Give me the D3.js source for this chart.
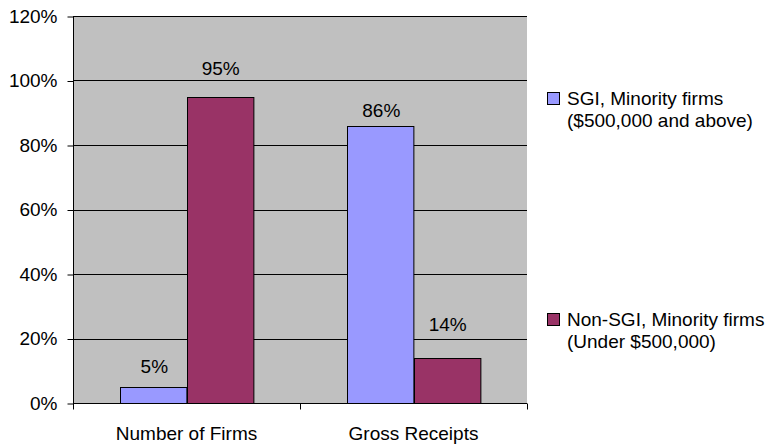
<!DOCTYPE html>
<html>
<head>
<meta charset="utf-8">
<script src="https://cdn.jsdelivr.net/npm/d3@7"></script>
<style>
body { margin:0; background:#fff; }
text { font-family: "Liberation Sans", Arial, sans-serif; fill:#000; }
</style>
</head>
<body>
<svg id="chart" width="765" height="445"></svg>
<script>
// data
var categories = ["Number of Firms", "Gross Receipts"];
var seriesNames = ["SGI", "NonSGI"];
var sgiValues = [5, 86];
var nonSgiValues = [95, 14];
var yTicks = [0, 20, 40, 60, 80, 100, 120];
var legendLines = [
	["SGI, Minority firms", "($500,000 and above)"],
	["Non-SGI, Minority firms", "(Under $500,000)"]
];
var colors = ["#9999FF", "#993366"];
// label gap above each bar (as Excel placed them)
var labelGap = [[14, 22], [9, 27]];

var svg = d3.select("#chart");
var plot = {left: 73, top: 16, right: 527, bottom: 403};
var fs = 19;

var x0 = d3.scaleBand().domain(categories).range([plot.left, plot.right]).paddingInner(0).paddingOuter(0);
var x1 = d3.scaleBand().domain(seriesNames).range([0, x0.bandwidth()]).paddingInner(0).paddingOuter(0.71);
var y = d3.scaleLinear().domain([0, 120]).range([plot.bottom, plot.top]);

// plot area
svg.append("rect").attr("x", plot.left).attr("y", plot.top)
	.attr("width", plot.right - plot.left).attr("height", plot.bottom - plot.top)
	.attr("fill", "#C0C0C0");

// gridlines
svg.append("g").selectAll("line").data(yTicks.filter(function(d){ return d > 0; }))
	.enter().append("line")
	.attr("x1", plot.left).attr("x2", plot.right)
	.attr("y1", function(d){ return Math.round(y(d)) + 0.5; })
	.attr("y2", function(d){ return Math.round(y(d)) + 0.5; })
	.attr("stroke", "#000").attr("stroke-width", 1);

// bars
var rows = categories.map(function(c, i){
	return {cat: c, vals: [
		{s: "SGI", v: sgiValues[i], gap: labelGap[i][0]},
		{s: "NonSGI", v: nonSgiValues[i], gap: labelGap[i][1]}
	]};
});
var groups = svg.append("g").selectAll("g").data(rows).enter().append("g")
	.attr("transform", function(d){ return "translate(" + x0(d.cat) + ",0)"; });
groups.selectAll("rect").data(function(d){ return d.vals; }).enter().append("rect")
	.attr("x", function(d){ return Math.round(x1(d.s)) + 0.5; })
	.attr("y", function(d){ return Math.round(y(d.v)) + 0.5; })
	.attr("width", x1.bandwidth())
	.attr("height", function(d){ return Math.round(plot.bottom - y(d.v)); })
	.attr("fill", function(d, i){ return colors[i]; })
	.attr("stroke", "#000").attr("stroke-width", 1);
groups.selectAll("text").data(function(d){ return d.vals; }).enter().append("text")
	.attr("x", function(d){ return x1(d.s) + x1.bandwidth() / 2 + 1; })
	.attr("y", function(d){ return y(d.v) - d.gap; })
	.attr("text-anchor", "middle")
	.attr("font-size", fs)
	.text(function(d){ return d.v + "%"; });

// y axis
var yAxis = d3.axisLeft(y).tickValues(yTicks).tickSize(6).tickPadding(10)
	.tickFormat(function(d){ return d + "%"; });
var yg = svg.append("g").attr("transform", "translate(" + (plot.left + 0.5) + ",0)").call(yAxis);
yg.selectAll("text").attr("font-size", fs).attr("font-family", null);
yg.selectAll("line,path").attr("stroke", "#000");
yg.select(".domain").attr("d", "M0," + plot.top + "V" + plot.bottom);
yg.selectAll(".tick line").attr("transform", "translate(0,0.5)");

// x axis
var xg = svg.append("g").attr("transform", "translate(0," + (plot.bottom + 0.5) + ")")
	.call(d3.axisBottom(x0).tickSize(0).tickPadding(0));
xg.selectAll("text").attr("font-size", fs).attr("font-family", null).attr("dy", null).attr("y", 36);
xg.select(".domain").attr("stroke", "#000").attr("d", "M" + plot.left + ",0H" + plot.right);
var edges = [plot.left, x0(categories[1]), plot.right];
xg.selectAll(".edge").data(edges).enter().append("line").attr("class", "edge")
	.attr("x1", function(d){ return Math.round(d) + 0.5; })
	.attr("x2", function(d){ return Math.round(d) + 0.5; })
	.attr("y1", 0).attr("y2", 6).attr("stroke", "#000");

// legend
var legendY = [105, 326];
var lg = svg.append("g").selectAll("g").data(legendLines).enter().append("g")
	.attr("transform", function(d, i){ return "translate(547," + legendY[i] + ")"; });
lg.append("rect").attr("x", 0.5).attr("y", -12.5).attr("width", 12).attr("height", 12)
	.attr("fill", function(d, i){ return colors[i]; }).attr("stroke", "#000");
lg.append("text").attr("x", 20).attr("y", 0).attr("font-size", fs)
	.selectAll("tspan").data(function(d){ return d; }).enter().append("tspan")
	.attr("x", 20).attr("dy", function(d, i){ return i ? 22 : 0; })
	.text(function(d){ return d; });
</script>
</body>
</html>
